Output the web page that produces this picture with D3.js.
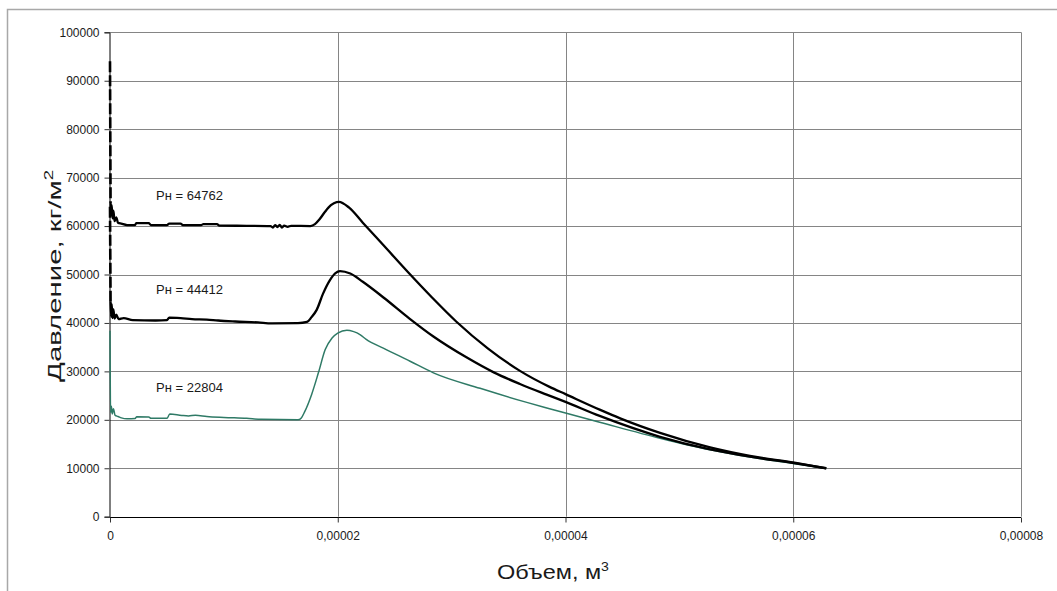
<!DOCTYPE html>
<html>
<head>
<meta charset="utf-8">
<script src="https://cdn.jsdelivr.net/npm/d3@7"></script>
<style>
  body { margin: 0; background: #fff; }
  text { font-family: Arial, "Liberation Sans", sans-serif; }
</style>
</head>
<body>
<svg id="chart" width="1057" height="591"></svg>
<script>
// Axis ticks and labels
const xTicks = [0, 0.00002, 0.00004, 0.00006, 0.00008];
const xTickLabels = ["0", "0,00002", "0,00004", "0,00006", "0,00008"];
const yTicks = [0, 10000, 20000, 30000, 40000, 50000, 60000, 70000, 80000, 90000, 100000];
const yTickLabels = ["0", "10000", "20000", "30000", "40000", "50000", "60000", "70000", "80000", "90000", "100000"];

// Series names (initial pressure)
const seriesLabels = ["Рн = 64762", "Рн = 44412", "Рн = 22804"];

// Series 1: Рн = 64762 — volume (m³) and pressure (кг/м²)
const volume1 = [0, 0.05e-6, 0.1e-6, 0.15e-6, 0.22e-6, 0.3e-6, 0.4e-6, 0.55e-6, 0.7e-6, 1.0e-6,
  1.5e-6, 2.2e-6, 2.3e-6, 3.4e-6, 3.6e-6, 5.0e-6, 5.2e-6, 6.2e-6, 6.4e-6, 8.0e-6,
  8.2e-6, 9.4e-6, 9.6e-6, 12.0e-6, 14.1e-6, 14.3e-6, 14.5e-6, 14.7e-6, 14.9e-6, 15.1e-6,
  15.3e-6, 15.6e-6, 15.9e-6, 17.6e-6, 18.0e-6, 18.4e-6, 18.9e-6, 19.4e-6, 19.9e-6, 20.1e-6,
  21.0e-6, 22.2e-6, 24.3e-6, 26.2e-6, 28.3e-6, 30.4e-6, 33.2e-6, 36.0e-6, 38.6e-6,
  40.0e-6, 43.0e-6, 44.8e-6, 48.3e-6, 52.7e-6, 56.2e-6, 60.1e-6, 62.9e-6];
const pressure1 = [94000, 64762, 62200, 64300, 61600, 63200, 61000, 61800, 60700, 60500,
  60200, 60200, 60600, 60600, 60200, 60200, 60500, 60500, 60200, 60200,
  60400, 60400, 60100, 60050, 60000, 59700, 60200, 59800, 60250, 59700,
  60100, 59850, 60050, 60000, 60400, 61400, 63000, 64300, 64950, 65000,
  63800, 60700, 55300, 50400, 45200, 40300, 34700, 30100, 26800,
  25300, 22100, 20300, 17300, 14300, 12550, 11150, 10000];

// Series 2: Рн = 44412
const volume2 = [0, 0.05e-6, 0.1e-6, 0.15e-6, 0.22e-6, 0.3e-6, 0.4e-6, 0.55e-6, 0.75e-6, 1.2e-6,
  2.0e-6, 4.0e-6, 5.0e-6, 5.2e-6, 6.2e-6, 7.2e-6, 8.5e-6, 9.5e-6, 11.0e-6, 13.0e-6,
  14.2e-6, 16.5e-6, 17.3e-6, 17.7e-6, 18.15e-6, 18.7e-6, 19.3e-6, 19.8e-6, 20.2e-6, 21.1e-6,
  22.2e-6, 24.1e-6, 26.3e-6, 28.4e-6, 31.3e-6, 33.7e-6, 36.0e-6, 38.35e-6, 40.0e-6,
  43.0e-6, 48.3e-6, 52.7e-6, 56.2e-6, 60.1e-6, 62.9e-6];
const pressure2 = [64000, 44412, 41300, 43900, 41000, 42800, 40900, 41700, 40800, 41000,
  40600, 40500, 40600, 41100, 41000, 40800, 40700, 40500, 40300, 40100,
  39900, 39950, 40200, 41200, 42700, 46000, 48800, 50300, 50700, 50200,
  48500, 45100, 40900, 37200, 32900, 29800, 27400, 25200, 23700,
  20800, 16500, 13900, 12400, 11050, 10000];

// Series 3: Рн = 22804
const volume3 = [0, 0.05e-6, 0.12e-6, 0.2e-6, 0.3e-6, 0.45e-6, 0.7e-6, 1.0e-6, 1.5e-6, 2.2e-6,
  2.35e-6, 3.4e-6, 3.6e-6, 5.0e-6, 5.25e-6, 6.3e-6, 6.9e-6, 7.5e-6, 8.5e-6, 10.0e-6,
  12.0e-6, 13.3e-6, 16.5e-6, 16.8e-6, 17.1e-6, 17.7e-6, 18.3e-6, 18.9e-6, 19.5e-6, 20.0e-6,
  20.8e-6, 21.4e-6, 21.95e-6, 22.5e-6, 24.0e-6, 26.35e-6, 28.4e-6, 32.5e-6, 36.6e-6, 38.6e-6,
  40.0e-6, 43.0e-6, 48.3e-6, 52.7e-6, 56.2e-6, 60.1e-6, 62.9e-6];
const pressure3 = [38400, 21500, 22804, 21200, 22300, 20900, 20700, 20400, 20200, 20250,
  20650, 20600, 20300, 20300, 21200, 20900, 20800, 20950, 20700, 20500,
  20300, 20100, 20000, 20400, 21700, 25200, 29700, 34500, 36900, 37900,
  38500, 38200, 37600, 36600, 34800, 32100, 29700, 26500, 23600, 22300,
  21400, 19500, 16200, 13800, 12300, 10950, 10000];

const svg = d3.select("#chart");
const W = 1057, H = 591;
const plot = { left: 110, right: 1021, top: 32.3, bottom: 516.7 };

const x = d3.scaleLinear().domain([0, 0.00008]).range([plot.left, plot.right]);
const y = d3.scaleLinear().domain([0, 100000]).range([plot.bottom, plot.top]);

// Outer chart frame
svg.append("rect")
  .attr("x", 7.5).attr("y", 9.5)
  .attr("width", W + 20).attr("height", H + 20)
  .attr("fill", "#fff").attr("stroke", "#a8a8a8").attr("stroke-width", 1.5);

// Horizontal gridlines
svg.append("g").selectAll("line")
  .data(yTicks.filter(d => d > 0))
  .join("line")
  .attr("x1", plot.left).attr("x2", plot.right)
  .attr("y1", d => Math.round(y(d)) + 0.5).attr("y2", d => Math.round(y(d)) + 0.5)
  .attr("stroke", "#858585").attr("stroke-width", 1);

// Vertical gridlines
svg.append("g").selectAll("line")
  .data(xTicks.filter(d => d > 0))
  .join("line")
  .attr("x1", d => Math.round(x(d)) + 0.5).attr("x2", d => Math.round(x(d)) + 0.5)
  .attr("y1", plot.top).attr("y2", plot.bottom)
  .attr("stroke", "#858585").attr("stroke-width", 1);

// Axes
const xAxis = d3.axisBottom(x).tickValues(xTicks)
  .tickFormat((d, i) => xTickLabels[i]).tickSize(5).tickPadding(9);
const yAxis = d3.axisLeft(y).tickValues(yTicks)
  .tickFormat((d, i) => yTickLabels[i]).tickSize(5).tickPadding(5);

const gx = svg.append("g").attr("transform", `translate(0,${Math.round(plot.bottom) + 0.5})`).call(xAxis);
const gy = svg.append("g").attr("transform", `translate(${plot.left - 0.5},0)`).call(yAxis);
[gx, gy].forEach(g => {
  g.select(".domain").attr("stroke", "#000");
  g.selectAll(".tick line").attr("stroke", "#333");
  g.selectAll(".tick text").attr("fill", "#1a1a1a").style("font-size", "12px")
    .style("font-family", "Arial, 'Liberation Sans', sans-serif");
});
gx.select(".domain").attr("d", `M${plot.left},0H${plot.right}`);

// Series
const series = [
  { vol: volume1, pres: pressure1, color: "#000", width: 2.3, dashedStart: true },
  { vol: volume2, pres: pressure2, color: "#000", width: 2.3, dashedStart: true },
  { vol: volume3, pres: pressure3, color: "#2f7a66", width: 1.5, dashedStart: false }
];

const line = d3.line().x(d => x(d[0])).y(d => y(d[1])).curve(d3.curveMonotoneX);

// draw the green series beneath the black ones
[series[2], series[1], series[0]].forEach(s => {
  const pts = s.vol.map((v, i) => [v, s.pres[i]]);
  if (s.dashedStart) {
    svg.append("path").datum(pts.slice(0, 2))
      .attr("d", line).attr("fill", "none")
      .attr("stroke", s.color).attr("stroke-width", 2.6)
      .attr("stroke-dasharray", "11,3");
    svg.append("path").datum(pts.slice(1))
      .attr("d", line).attr("fill", "none")
      .attr("stroke", s.color).attr("stroke-width", s.width)
      .attr("stroke-linejoin", "round");
  } else {
    svg.append("path").datum(pts)
      .attr("d", line).attr("fill", "none")
      .attr("stroke", s.color).attr("stroke-width", s.width)
      .attr("stroke-linejoin", "round");
  }
});

// Series annotations
const labelAnchors = [[4.05e-6, 65400], [4.05e-6, 45900], [4.05e-6, 25700]];
svg.append("g").selectAll("text")
  .data(seriesLabels)
  .join("text")
  .attr("x", (d, i) => x(labelAnchors[i][0]))
  .attr("y", (d, i) => y(labelAnchors[i][1]))
  .attr("fill", "#1a1a1a")
  .style("font-size", "13px")
  .text(d => d);

// Axis titles
svg.append("text")
  .attr("x", 553).attr("y", 579)
  .attr("text-anchor", "middle").attr("fill", "#1a1a1a")
  .style("font-size", "20px")
  .attr("textLength", 112).attr("lengthAdjust", "spacingAndGlyphs")
  .html('Объем, м<tspan dy="-8" font-size="12px">3</tspan>');

svg.append("text")
  .attr("transform", `translate(61,276) rotate(-90)`)
  .attr("text-anchor", "middle").attr("fill", "#1a1a1a")
  .style("font-size", "19px")
  .attr("textLength", 212).attr("lengthAdjust", "spacingAndGlyphs")
  .html('Давление, кг/м<tspan dy="-8" font-size="12px">2</tspan>');
</script>
</body>
</html>
